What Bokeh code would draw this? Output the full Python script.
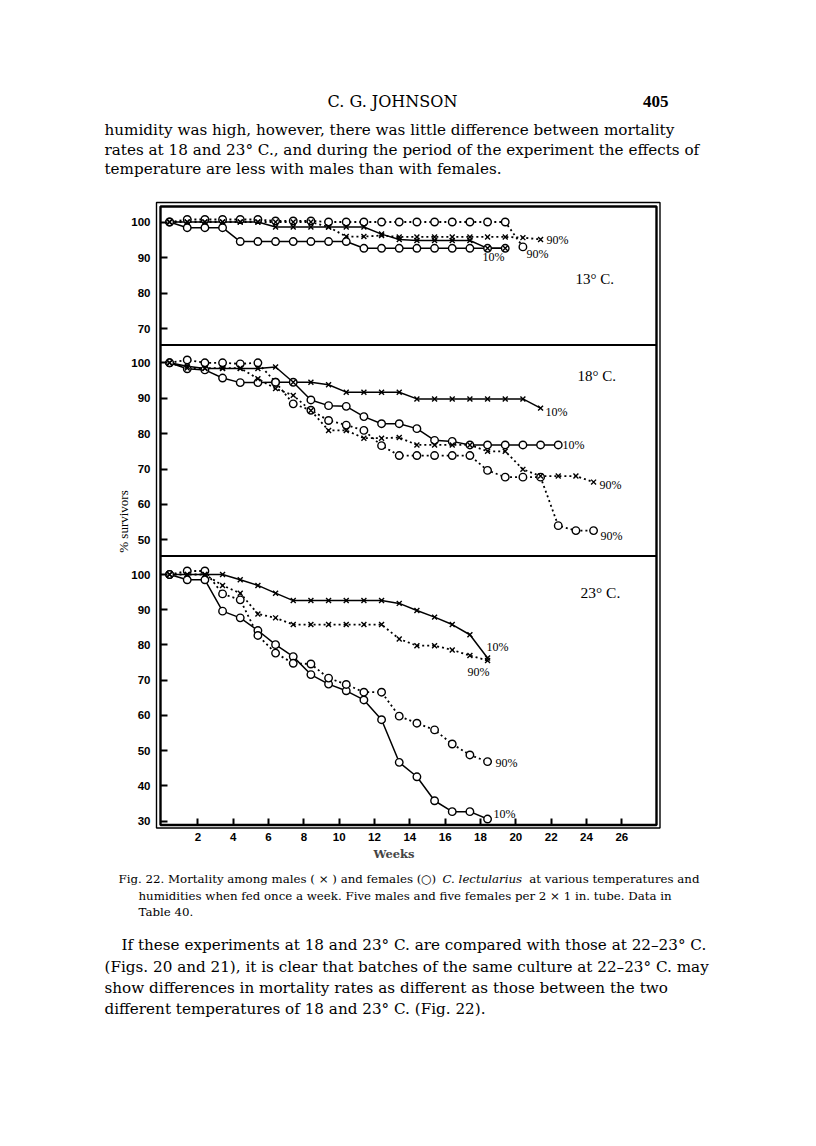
import numpy as np
from bokeh.plotting import figure
from bokeh.models import Range1d, LinearAxis, FixedTicker
from bokeh.core.properties import value
from bokeh.embed import file_html
from bokeh.resources import INLINE

# ---------------- data ----------------
WEEKS = [0.4, 1.4, 2.4, 3.4, 4.4, 5.4, 6.4, 7.4, 8.4, 9.4, 10.4, 11.4, 12.4,
         13.4, 14.4, 15.4, 16.4, 17.4, 18.4, 19.4, 20.4, 21.4, 22.4, 23.4, 24.4]

# 13 deg C
T13_MALE_10 = [100, 100, 100, 100, 100, 100, 98.6, 98.6, 98.6, 98.6, 98.6, 98.6,
               96.6, 95.1, 94.8, 94.8, 94.8, 94.8, 92.6, 92.6]
T13_MALE_90 = [100, 100, 100, 100, 100, 100, 100, 100, 100, 98.6, 95.9, 95.9,
               96.2, 95.8, 95.8, 95.8, 95.8, 95.8, 95.8, 95.8, 95.6, 95.1]
T13_FEMALE_10 = [100, 98.4, 98.4, 98.4, 94.5, 94.5, 94.5, 94.5, 94.5, 94.5, 94.5,
                 92.6, 92.6, 92.6, 92.6, 92.6, 92.6, 92.6, 92.6, 92.6]
T13_FEMALE_90 = [100, 100.7, 100.7, 100.7, 100.7, 100.7, 100.3, 100.3, 100.3, 100, 100,
                 100, 100, 100, 100, 100, 100, 100, 100, 100, 93.0]

# 18 deg C
T18_MALE_10 = [100, 99.0, 98.4, 98.4, 98.4, 98.4, 98.8, 94.5, 94.5, 93.8, 91.7, 91.7,
               91.7, 91.7, 89.8, 89.8, 89.8, 89.8, 89.8, 89.8, 89.8, 87.2]
T18_MALE_90 = [100, 98.5, 98.5, 98.5, 98.5, 95.5, 92.7, 90.8, 86.5, 80.9, 80.9, 78.7,
               78.7, 78.9, 76.8, 76.8, 76.8, 76.8, 75.0, 75.0, 69.9, 68.0, 68.0, 68.0, 66.3]
T18_FEMALE_10 = [100, 98.3, 98.0, 95.7, 94.4, 94.4, 94.5, 94.5, 89.5, 87.9, 87.7, 84.8,
                 82.8, 82.8, 81.4, 78.1, 77.8, 76.8, 76.8, 76.8, 76.8, 76.8, 76.8]
T18_FEMALE_90 = [100, 100.8, 100, 100, 99.7, 100, 94.5, 88.4, 86.6, 83.7, 82.4, 80.9,
                 76.6, 73.8, 73.8, 73.8, 73.8, 73.8, 69.6, 67.7, 67.7, 67.7, 54.0, 52.6, 52.6]

# 23 deg C
T23_MALE_10 = [100, 100, 100, 100, 98.5, 96.9, 94.7, 92.6, 92.6, 92.6, 92.6, 92.6,
               92.6, 91.8, 89.8, 87.9, 85.8, 82.9, 76.3]
T23_MALE_90 = [100, 100, 100, 96.9, 94.7, 88.8, 87.7, 85.8, 85.8, 85.8, 85.8, 85.8,
               85.8, 81.7, 79.8, 79.8, 78.6, 77.0, 75.6]
T23_FEMALE_10 = [100, 98.5, 98.5, 89.6, 87.7, 84.1, 80.1, 76.7, 71.6, 68.9, 67.0, 64.4,
                 58.8, 46.7, 42.6, 35.8, 32.7, 32.7, 30.6]
T23_FEMALE_90 = [100, 101, 101, 94.5, 92.8, 82.7, 77.7, 74.8, 74.6, 70.6, 68.8, 66.6,
                 66.6, 59.8, 57.8, 55.9, 51.9, 48.8, 46.9]

X_TICKS = [2, 4, 6, 8, 10, 12, 14, 16, 18, 20, 22, 24, 26]
Y_TICKS_13 = [70, 80, 90, 100]
Y_TICKS_18 = [50, 60, 70, 80, 90, 100]
Y_TICKS_23 = [30, 40, 50, 60, 70, 80, 90, 100]

PANEL_NAMES = ["13° C.", "18° C.", "23° C."]
END_LABELS = ["10%", "90%"]

# ---------------- page layout (pixels, page = canvas) ----------------
W, H = 810, 1140
X0, KX = 162.0, 17.667             # page x of week 0, px per week
FRAME_L, FRAME_R = 160.0, 656.0
FRAME_T, FRAME_B = 206.0, 824.5
SEP1, SEP2 = 344.5, 555.5
# (page y of 100 %, px per %, top, bottom)
PANELS = {"t13": (221.5, 3.557, FRAME_T, SEP1),
          "t18": (362.3, 3.540, SEP1, SEP2),
          "t23": (574.0, 3.524, SEP2, FRAME_B)}

p = figure(width=W, height=H, x_range=Range1d(0, W), y_range=Range1d(H, 0),
           output_backend="svg", toolbar_location=None, x_axis_type=None,
           y_axis_type=None, min_border=0, outline_line_color=None)
p.grid.visible = False
p.background_fill_color = "white"
p.border_fill_color = "white"

p.extra_x_ranges = {"wk": Range1d((0 - X0) / KX, (W - X0) / KX)}
for name, (y100, k, top, bot) in PANELS.items():
    p.extra_y_ranges[name] = Range1d(100 - (H - y100) / k, 100 + (y100 - 0) / k)

SANS = "Liberation Sans"
SERIF = "DejaVu Serif"
TSERIF = "Liberation Serif"

# y axes (one per panel)
for name, ticks in (("t13", Y_TICKS_13), ("t18", Y_TICKS_18), ("t23", Y_TICKS_23)):
    y100, k, top, bot = PANELS[name]
    ax = LinearAxis(y_range_name=name, ticker=FixedTicker(ticks=ticks),
                    fixed_location=FRAME_L, bounds=(100 - (bot - y100) / k, 100 + (y100 - top) / k))
    ax.axis_line_color = None
    ax.major_tick_in = 7
    ax.major_tick_out = 0
    ax.major_tick_line_width = 2
    ax.minor_tick_line_color = None
    ax.major_label_standoff = 10
    ax.major_label_text_font = SANS
    ax.major_label_text_font_size = "11.5px"
    ax.major_label_text_font_style = "bold"
    ax.major_label_text_color = "black"
    p.add_layout(ax, "left")

xa = LinearAxis(x_range_name="wk", ticker=FixedTicker(ticks=X_TICKS),
                fixed_location=FRAME_B, bounds=(0, 26.2), axis_label="Weeks")
xa.axis_line_color = None
xa.major_tick_in = 7
xa.major_tick_out = 0
xa.major_tick_line_width = 2
xa.minor_tick_line_color = None
xa.major_label_standoff = 8
xa.major_label_text_font = SANS
xa.major_label_text_font_size = "11.5px"
xa.major_label_text_font_style = "bold"
xa.major_label_text_color = "black"
xa.axis_label_text_font = SERIF
xa.axis_label_text_font_size = "11.5px"
xa.axis_label_text_font_style = "bold"
xa.axis_label_standoff = 2
p.add_layout(xa, "below")

# frame
p.quad(left=[156.0], right=[659.5], top=[202.0], bottom=[827.5],
       fill_color=None, line_color="black", line_width=1.4)
p.quad(left=[FRAME_L], right=[FRAME_R], top=[FRAME_T], bottom=[FRAME_B],
       fill_color=None, line_color="black", line_width=2.4)
p.segment(x0=[FRAME_L, FRAME_L], x1=[FRAME_R, FRAME_R], y0=[SEP1, SEP2], y1=[SEP1, SEP2],
          line_color="black", line_width=2.2)

DOT = "2 3"
SERIES = [
    ("t13", T13_MALE_10, "x", None), ("t13", T13_MALE_90, "x", DOT),
    ("t13", T13_FEMALE_10, "o", None), ("t13", T13_FEMALE_90, "o", DOT),
    ("t18", T18_MALE_10, "x", None), ("t18", T18_MALE_90, "x", DOT),
    ("t18", T18_FEMALE_10, "o", None), ("t18", T18_FEMALE_90, "o", DOT),
    ("t23", T23_MALE_10, "x", None), ("t23", T23_MALE_90, "x", DOT),
    ("t23", T23_FEMALE_10, "o", None), ("t23", T23_FEMALE_90, "o", DOT),
]

for name, ys, mk, dash in SERIES:
    xs = WEEKS[:len(ys)]
    if dash is None:
        p.line(xs, ys, x_range_name="wk", y_range_name=name, line_color="black", line_width=1.5)
    else:
        p.line(xs, ys, x_range_name="wk", y_range_name=name, line_color="black",
               line_width=1.8, line_dash=dash)
for name, ys, mk, dash in SERIES:
    if mk == "o":
        p.scatter(WEEKS[:len(ys)], ys, x_range_name="wk", y_range_name=name, marker="circle",
                  size=7.5, fill_color="white", line_color="black", line_width=1.4)
for name, ys, mk, dash in SERIES:
    if mk == "x":
        p.scatter(WEEKS[:len(ys)], ys, x_range_name="wk", y_range_name=name, marker="x",
                  size=7, line_color="black", line_width=1.4)

# series end labels and panel titles
def txt(x, y, s, size, font=TSERIF, align="left", style="normal", baseline="middle", angle=0.0):
    p.text(x=[x], y=[y], text=[s], text_font=value(font), text_font_size=size,
           text_align=align, text_baseline=baseline, text_font_style=style,
           text_color="black", angle=angle)

LBL = "12px"
txt(546, 239, END_LABELS[1], LBL)
txt(526, 253, END_LABELS[1], LBL)
txt(482, 256, END_LABELS[0], LBL)
txt(545, 411, END_LABELS[0], LBL)
txt(562, 444, END_LABELS[0], LBL)
txt(599, 484, END_LABELS[1], LBL)
txt(600, 535, END_LABELS[1], LBL)
txt(486, 646, END_LABELS[0], LBL)
txt(467, 671, END_LABELS[1], LBL)
txt(495, 762, END_LABELS[1], LBL)
txt(493, 813, END_LABELS[0], LBL)

txt(575, 278, PANEL_NAMES[0], "15px")
txt(577, 375, PANEL_NAMES[1], "15px")
txt(580, 592, PANEL_NAMES[2], "15.5px")

txt(123, 521, "% survivors", "13px", align="center", angle=np.pi / 2)

# page text
txt(392, 101, "C. G. JOHNSON", "16px", font=SERIF, align="center")
txt(668, 101, "405", "17px", font=TSERIF, align="right", style="bold")

BODY = "15.2px"
txt(104, 129, "humidity was high, however, there was little difference between mortality", BODY, font=SERIF)
txt(104, 149, "rates at 18 and 23° C., and during the period of the experiment the effects of", BODY, font=SERIF)
txt(104, 168, "temperature are less with males than with females.", BODY, font=SERIF)

CAP = "11.8px"
txt(118, 878, "Fig. 22.  Mortality among males ( × ) and females (○)", CAP, font=SERIF)
txt(442, 878, "C. lectularius", CAP, font=SERIF, style="italic")
txt(699, 878, "at various temperatures and", CAP, font=SERIF, align="right")
txt(138, 895, "humidities when fed once a week.  Five males and five females per 2 × 1 in. tube.  Data in", CAP, font=SERIF)
txt(138, 911, "Table 40.", CAP, font=SERIF)

txt(121, 944, "If these experiments at 18 and 23° C. are compared with those at 22–23° C.", BODY, font=SERIF)
txt(104, 966, "(Figs. 20 and 21), it is clear that batches of the same culture at 22–23° C. may", BODY, font=SERIF)
txt(104, 987, "show differences in mortality rates as different as those between the two", BODY, font=SERIF)
txt(104, 1008, "different temperatures of 18 and 23° C. (Fig. 22).", BODY, font=SERIF)

open("out.html", "w").write(file_html(p, INLINE))
